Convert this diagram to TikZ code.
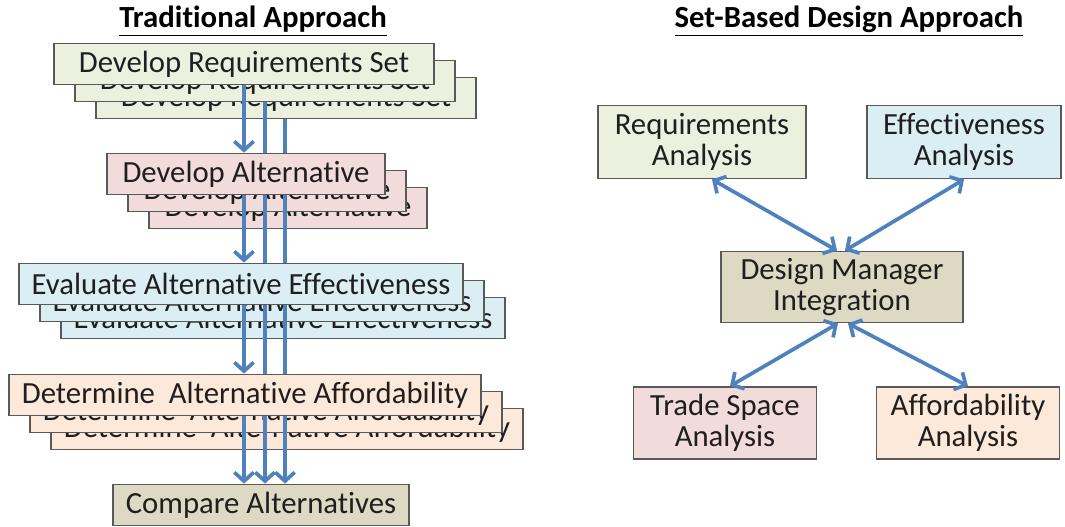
\documentclass[tikz,border=0pt]{standalone}
\usepackage{fontspec}
\setmainfont{Carlito}[Ligatures=NoCommon]
\usetikzlibrary{arrows.meta}
\definecolor{reqgreen}{HTML}{EBF1DE}
\definecolor{altpink}{HTML}{F2DCDB}
\definecolor{effblue}{HTML}{DBEEF4}
\definecolor{affpeach}{HTML}{FDE9D9}
\definecolor{dmtan}{HTML}{DDD9C3}
\definecolor{flowblue}{HTML}{4F81BD}
\newcommand{\bx}{\fontsize{17.5}{17.5}\selectfont}
\def\steps{req/reqgreen/244/64/7.6cm/Develop Requirements Set,
  alt/altpink/246/174/5.56cm/Develop Alternative,
  eva/effblue/241/284/8.88cm/Evaluate Alternative Effectiveness,
  aff/affpeach/245/395/9.44cm/Determine~ Alternative Affordability}

\begin{document}
\begin{tikzpicture}[x=0.02cm,y=-0.02cm,
   box/.style={draw=black!65,line width=1pt,text=black!88,font=\bx,
     minimum height=0.82cm,inner sep=0pt},
   flow/.style={draw=flowblue,line width=2.1pt,
     -{Straight Barb[length=5pt,width=11pt]}},
   link/.style={draw=flowblue,line width=2.1pt,
     {Straight Barb[length=5pt,width=11pt]}-{Straight Barb[length=5pt,width=11pt]}}]
 \useasboundingbox (0,0) rectangle (1065,527);
 % titles
 \node[font=\fontsize{17.5}{17.5}\selectfont\bfseries] (tl) at (253,21) {\underline{Traditional Approach}};
 \node[font=\fontsize{17.5}{17.5}\selectfont\bfseries] (tr) at (849,21) {\underline{Set-Based Design Approach}};
 % traditional approach: stacked steps
 \foreach \nm/\col/\cx/\cy/\w/\txt in \steps {
   \coordinate (\nm0) at (\cx,\cy);
   \node[box,fill=\col,minimum width=\w] (\nm3) at (\cx+42,\cy+34) {\txt};
   \node[box,fill=\col,minimum width=\w] (\nm2) at (\cx+21,\cy+17) {\txt};
 }
 \node[box,fill=dmtan,minimum width=5.92cm] (cmp) at (261,505) {Compare Alternatives};
 \coordinate (c1) at (244,0);
 \coordinate (c2) at (265,0);
 \coordinate (c3) at (285,0);
 \draw[flow] (req2.south -| c2) -- (alt0 -| c2);
 \draw[flow] (req3.south -| c3) -- (alt0 -| c3);
 \foreach \a/\b in {alt/eva,eva/aff} {
   \draw[flow] (\a0 -| c2) -- (\b0 -| c2);
   \draw[flow] (\a0 -| c3) -- (\b0 -| c3);
 }
 \draw[flow] (aff0 -| c2) -- (cmp.north -| c2);
 \draw[flow] (aff0 -| c3) -- (cmp.north -| c3);
 \foreach \nm/\col/\cx/\cy/\w/\txt in \steps
   \node[box,fill=\col,minimum width=\w] (\nm1) at (\nm0) {\txt};
 \foreach \a/\b in {req1/alt1,alt1/eva1,eva1/aff1,aff1/cmp}
   \draw[flow] (\a.south -| c1) -- (\b.north -| c1);
 % set-based design approach
 \node[box,fill=reqgreen,minimum width=4.16cm,minimum height=1.46cm,align=center] (ra) at (702,142) {Requirements\\Analysis};
 \node[box,fill=effblue,minimum width=3.88cm,minimum height=1.46cm,align=center] (ea) at (964,142) {Effectiveness\\Analysis};
 \node[box,fill=dmtan,minimum width=4.84cm,minimum height=1.42cm,align=center] (dm) at (842,287) {Design Manager\\Integration};
 \node[box,fill=altpink,minimum width=3.66cm,minimum height=1.44cm,align=center] (ts) at (725,423) {Trade Space\\Analysis};
 \node[box,fill=affpeach,minimum width=3.66cm,minimum height=1.44cm,align=center] (fa) at (968,423) {Affordability\\Analysis};
 \draw[link] ([xshift=0.2cm]ra.south) -- ([xshift=-0.1cm]dm.north);
 \draw[link] (ea.south) -- ([xshift=0.06cm]dm.north);
 \draw[link] ([xshift=0.1cm]ts.north) -- ([xshift=-0.08cm]dm.south);
 \draw[link] (fa.north) -- ([xshift=0.12cm]dm.south);
\end{tikzpicture}
\end{document}
